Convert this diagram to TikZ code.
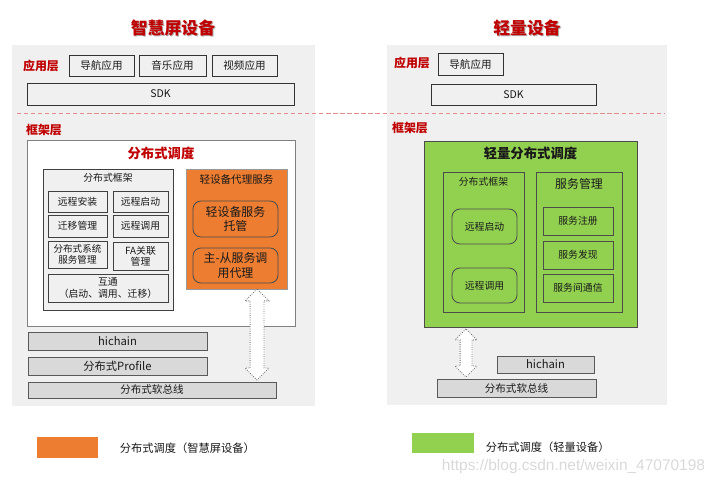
\documentclass[tikz,border=0pt]{standalone}
\usepackage{fontspec}
\usetikzlibrary{shapes.arrows}
\newfontfamily\cjk{Noto Sans CJK SC}
\definecolor{hwred}{HTML}{C00000}
\definecolor{hworange}{HTML}{ED7D31}
\definecolor{hwgreen}{HTML}{92D050}
\definecolor{panelgray}{HTML}{F0F0F0}
\definecolor{bargray}{HTML}{D9D9D9}
\newcommand{\fsz}[1]{\fontsize{#1}{\fpeval{round(#1*1.2,2)}}\selectfont}

\begin{document}
\begin{tikzpicture}[
		x=0.25mm, y=-0.25mm,
		every node/.style={font=\cjk\fsz{7}, text=black!90},
		panel/.style={fill=panelgray},
		layer/.style={font=\cjk\bfseries\fsz{8.5}, text=hwred},
		devtitle/.style={font=\cjk\bfseries\fsz{12}, text=hwred},
		apptag/.style={draw=black!80, fill=panelgray, line width=0.6pt,
		inner sep=0pt, minimum width=16.25mm, minimum height=5.25mm, font=\cjk\fsz{7.5}},
		sdkbar/.style={apptag, minimum height=5.5mm},
		frame/.style={draw=black!50, line width=0.6pt, inner sep=0pt},
		module/.style={draw=black!75, fill=panelgray, line width=0.6pt, inner sep=0pt, align=center},
		cell/.style={module, minimum width=14.75mm, minimum height=5.25mm},
		proxycell/.style={draw=black!70, fill=hworange, rounded corners=2mm, line width=0.6pt,
		inner sep=0pt, minimum width=21.25mm, align=center, font=\cjk\fsz{8.5}},
		litecell/.style={draw=black!70, fill=hwgreen, line width=0.6pt, inner sep=0pt, align=center},
		bar/.style={draw=black!65, fill=bargray, line width=0.6pt, inner sep=0pt, font=\cjk\fsz{8}},
		link/.style={double arrow, draw=black!55, densely dotted, fill=white, line width=0.6pt,
		rotate=90, inner sep=0pt, double arrow head extend=1.25mm},
		keytext/.style={anchor=west, font=\cjk\fsz{8}}
		]
		\useasboundingbox (0,0) rectangle (720,486);
		% grey backgrounds
		\fill[panel] (12,45) rectangle (315,406);
		\fill[panel] (387,45) rectangle (667,405);
		\draw[hwred!45, densely dashed, line width=0.6pt] (17,113) -- (665,113);

		% smart screen device
		\node[devtitle, text=black!30] (titleLs) at (174,29.5) {智慧屏设备};
		\node[devtitle] (titleL) at (173,28) {智慧屏设备};
		\node[layer] (appL) at (41,66) {应用层};
		\node[apptag] (nav) at (101.5,65.5) {导航应用};
		\node[apptag, minimum width=16.75mm] (music) at (172.5,65.5) {音乐应用};
		\node[apptag] (video) at (244.5,65.5) {视频应用};
		\node[sdkbar, minimum width=66.75mm] (sdkL) at (160.5,94) {SDK};
		\node[layer] (fwL) at (44,130) {框架层};

		\node[frame, fill=white, minimum width=67mm, minimum height=46.5mm] (sched) at (161,233) {};
		\node[font=\cjk\bfseries\fsz{9.5}, text=hwred] (schedT) at (161,153) {分布式调度};
		\node[module, minimum width=32.5mm, minimum height=35.25mm] (dfw) at (108,239.5) {};
		\node (dfwT) at (108,178) {分布式框架};
		\node[cell] (inst) at (77.5,201.5) {远程安装};
		\node[cell, minimum width=13.75mm] (start) at (140.5,201.5) {远程启动};
		\node[cell, minimum height=5.5mm] (migr) at (77.5,226) {迁移管理};
		\node[cell, minimum width=13.75mm, minimum height=5.5mm] (call) at (140.5,226) {远程调用};
		\node[cell, minimum height=6.75mm, font=\cjk\fsz{6.8}] (sysmgr) at (77.5,254.5) {分布式系统\\[-0.5pt]服务管理};
		\node[cell, minimum width=13.75mm, minimum height=7mm] (famgr) at (140.5,256) {FA关联\\[-0.5pt]管理};
		\node[cell, minimum width=30mm, minimum height=7mm] (inter) at (108,288) {互通\\（启动、调用、迁移）};

		\node[frame, draw=black!40, fill=hworange, minimum width=25.25mm, minimum height=30mm] (proxy) at (236.5,229) {};
		\node[font=\cjk\fsz{7.5}] (proxyT) at (236.5,179) {轻设备代理服务};
		\node[proxycell, minimum height=9mm] (host) at (235.5,219) {轻设备服务\\托管};
		\node[proxycell, minimum height=8.75mm] (msproxy) at (235.5,265.5) {主-从服务调\\用代理};

		\node[bar, minimum width=44.75mm, minimum height=4.5mm] (hichainL) at (117.5,341) {hichain};
		\node[bar, minimum width=44.75mm, minimum height=4.5mm] (profile) at (117.5,366) {分布式Profile};
		\node[bar, minimum width=62mm, minimum height=4mm, font=\cjk\fsz{7.5}] (busL) at (152,390) {分布式软总线};
		\node[link, minimum height=22.75mm] (link1) at (257,334.5) {\rule{0pt}{3.25mm}};

		% lightweight device
		\node[devtitle, text=black!30] (titleRs) at (528,29.5) {轻量设备};
		\node[devtitle] (titleR) at (527,28) {轻量设备};
		\node[layer] (appR) at (412,63) {应用层};
		\node[apptag, minimum height=5.5mm] (navR) at (470.5,64) {导航应用};
		\node[sdkbar, minimum width=41.25mm, minimum height=5.25mm] (sdkR) at (513.5,94.5) {SDK};
		\node[layer] (fwR) at (410,128) {框架层};

		\node[frame, draw=black!70, fill=hwgreen, minimum width=53.25mm, minimum height=46.5mm] (lite) at (530.5,234) {};
		\node[font=\cjk\bfseries\fsz{9.5}] (liteT) at (530.5,153) {轻量分布式调度};
		\node[litecell, minimum width=20.25mm, minimum height=35mm] (dfwR) at (483.5,242) {};
		\node (dfwRT) at (483.5,182) {分布式框架};
		\node[litecell, rounded corners=2mm, minimum width=16.25mm, minimum height=8.75mm] (startR) at (484.5,226.5) {远程启动};
		\node[litecell, rounded corners=2mm, minimum width=16.25mm, minimum height=8.75mm] (callR) at (484.5,285.5) {远程调用};
		\node[litecell, minimum width=21.5mm, minimum height=35mm] (svc) at (579,242) {};
		\node[font=\cjk\fsz{8.5}] (svcT) at (579,184) {服务管理};
		\node[litecell, minimum width=17.5mm, minimum height=7mm] (reg) at (578,221) {服务注册};
		\node[litecell, minimum width=17.5mm, minimum height=7mm] (disc) at (578,255) {服务发现};
		\node[litecell, minimum width=17.5mm, minimum height=7mm] (comm) at (578,288) {服务间通信};

		\node[link, minimum height=12mm] (link2) at (466,353) {\rule{0pt}{2.75mm}};
		\node[bar, minimum width=24.25mm, minimum height=4.25mm] (hichainR) at (545.5,364.5) {hichain};
		\node[bar, minimum width=39.75mm, minimum height=4.5mm, font=\cjk\fsz{7.5}] (busR) at (516.5,388) {分布式软总线};

		% legend
		\node[fill=hworange, minimum width=15.25mm, minimum height=5.25mm, inner sep=0pt] (keyL) at (67.5,447.5) {};
		\node[keytext] (keyLT) at (115,448) {分布式调度（智慧屏设备）};
		\node[fill=hwgreen, minimum width=15.5mm, minimum height=5mm, inner sep=0pt] (keyR) at (443,443) {};
		\node[keytext] (keyRT) at (481,447) {分布式调度（轻量设备）};
		\node[anchor=west, font=\fontspec{Liberation Sans}\fsz{11}, text=black!15] (mark) at (437,467) {https://blog.csdn.net/weixin\_47070198};
	\end{tikzpicture}
\end{document}
